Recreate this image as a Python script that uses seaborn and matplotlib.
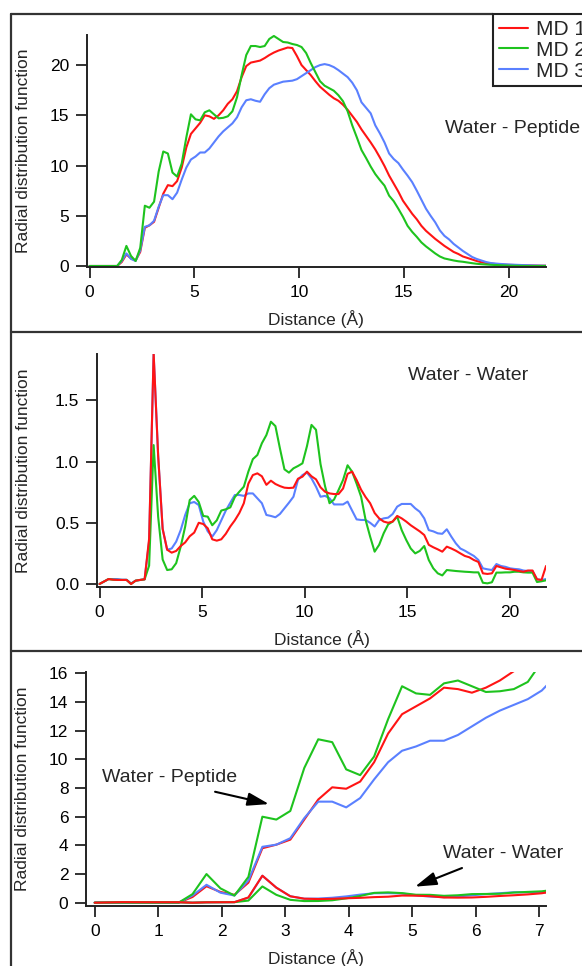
import numpy as np
import pandas as pd
import matplotlib
matplotlib.use('Agg')
import matplotlib.pyplot as plt
from matplotlib.lines import Line2D
from matplotlib.ticker import FormatStrFormatter
import seaborn as sns

sns.set_style('ticks')
plt.rcParams['font.family'] = ['Liberation Sans', 'DejaVu Sans']

# distance grid of the histogram bins (A)
distance = [0.00, 0.22, 0.44, 0.66, 0.88, 1.10, 1.32, 1.54, 1.76, 1.98,
            2.20, 2.42, 2.64, 2.86, 3.08, 3.30, 3.52, 3.74, 3.96, 4.18,
            4.40, 4.62, 4.84, 5.06, 5.28, 5.50, 5.72, 5.94, 6.16, 6.38,
            6.60, 6.82, 7.04, 7.26, 7.48, 7.70, 7.92, 8.14, 8.36, 8.58,
            8.80, 9.02, 9.24, 9.46, 9.68, 9.90, 10.12, 10.34, 10.56, 10.78,
            11.00, 11.22, 11.44, 11.66, 11.88, 12.10, 12.32, 12.54, 12.76, 12.98,
            13.20, 13.42, 13.64, 13.86, 14.08, 14.30, 14.52, 14.74, 14.96, 15.18,
            15.40, 15.62, 15.84, 16.06, 16.28, 16.50, 16.72, 16.94, 17.16, 17.38,
            17.60, 17.82, 18.04, 18.26, 18.48, 18.70, 18.92, 19.14, 19.36, 19.58,
            19.80, 20.02, 20.24, 20.46, 20.68, 20.90, 21.12, 21.34, 21.56, 21.78]

# water - peptide rdf
wp_md1 = [0, 0, 0, 0, 0, 0, 0, 0.4, 1.15, 0.75,
          0.55, 1.4, 3.8, 4.05, 4.4, 5.8, 7.2, 8.05, 7.95, 8.45,
          9.8, 11.8, 13.15, 13.7, 14.25, 15.0, 14.9, 14.65, 15.0, 15.5,
          16.15, 16.6, 17.4, 18.8, 19.9, 20.25, 20.35, 20.45, 20.7, 21.0,
          21.25, 21.45, 21.6, 21.75, 21.7, 20.9, 20.0, 19.5, 19.0, 18.4,
          17.85, 17.45, 17.05, 16.7, 16.45, 16.05, 15.55, 14.95, 14.35, 13.6,
          12.95, 12.3, 11.6, 10.8, 9.95, 9.0, 8.2, 7.4, 6.5, 5.85,
          5.2, 4.65, 4.0, 3.5, 3.1, 2.7, 2.35, 2.0, 1.7, 1.4,
          1.2, 0.95, 0.8, 0.65, 0.5, 0.38, 0.3, 0.24, 0.2, 0.16,
          0.13, 0.11, 0.1, 0.08, 0.07, 0.06, 0.05, 0.04, 0.03, 0.03]
wp_md2 = [0, 0, 0, 0, 0, 0, 0, 0.6, 2.0, 1.0,
          0.5, 1.8, 6.0, 5.8, 6.4, 9.4, 11.4, 11.2, 9.3, 8.9,
          10.2, 12.8, 15.1, 14.6, 14.5, 15.3, 15.5, 15.1, 14.7, 14.75,
          14.9, 15.4, 16.8, 19.0, 21.0, 21.9, 21.9, 21.8, 21.9, 22.6,
          22.9, 22.6, 22.3, 22.25, 22.1, 22.0, 21.8, 21.2, 20.2, 19.3,
          18.4, 17.95, 17.7, 17.45, 17.0, 16.4, 15.4, 14.0, 12.8, 11.55,
          10.75, 9.9, 9.15, 8.55, 8.0, 7.0, 6.45, 5.7, 4.9, 4.0,
          3.4, 2.9, 2.35, 1.95, 1.6, 1.25, 0.95, 0.75, 0.65, 0.55,
          0.47, 0.42, 0.35, 0.28, 0.22, 0.18, 0.15, 0.12, 0.1, 0.08,
          0.06, 0.04, 0.03, 0.02, 0.01, 0, 0, 0, 0, 0]
wp_md3 = [0, 0, 0, 0, 0, 0, 0, 0.5, 1.25, 0.7,
          0.5, 1.55, 3.9, 4.05, 4.5, 5.9, 7.05, 7.05, 6.65, 7.3,
          8.6, 9.8, 10.6, 10.9, 11.3, 11.3, 11.7, 12.3, 12.9, 13.4,
          13.8, 14.2, 14.8, 15.8, 16.5, 16.6, 16.45, 16.35, 17.1, 17.7,
          18.05, 18.2, 18.35, 18.4, 18.45, 18.6, 18.9, 19.2, 19.5, 19.8,
          20.0, 20.1, 20.0, 19.8, 19.5, 19.15, 18.8, 18.25, 17.5, 16.3,
          15.75, 15.2, 14.0, 13.2, 12.3, 11.2, 10.65, 10.25, 9.6, 9.0,
          8.35, 7.5, 6.6, 5.7, 5.0, 4.35, 3.55, 3.0, 2.65, 2.2,
          1.85, 1.5, 1.2, 0.9, 0.7, 0.55, 0.4, 0.3, 0.25, 0.21,
          0.18, 0.15, 0.13, 0.11, 0.09, 0.08, 0.06, 0.05, 0.04, 0.03]

# water - water rdf
ww_md1 = [0.0, 0.02, 0.04, 0.035, 0.033, 0.033, 0.033, 0.0, 0.027, 0.033,
          0.038, 0.37, 1.885, 1.05, 0.45, 0.28, 0.256, 0.27, 0.31, 0.34,
          0.39, 0.42, 0.5, 0.49, 0.455, 0.365, 0.354, 0.365, 0.41, 0.47,
          0.52, 0.58, 0.66, 0.82, 0.89, 0.904, 0.88, 0.81, 0.844, 0.817,
          0.80, 0.787, 0.784, 0.787, 0.86, 0.877, 0.918, 0.88, 0.855, 0.79,
          0.754, 0.74, 0.735, 0.735, 0.78, 0.9, 0.918, 0.85, 0.77, 0.71,
          0.66, 0.58, 0.536, 0.51, 0.5, 0.51, 0.556, 0.536, 0.51, 0.48,
          0.455, 0.43, 0.40, 0.32, 0.30, 0.283, 0.264, 0.305, 0.29, 0.272,
          0.25, 0.229, 0.218, 0.196, 0.18, 0.087, 0.082, 0.087, 0.147, 0.136,
          0.125, 0.12, 0.114, 0.106, 0.10, 0.11, 0.11, 0.038, 0.033, 0.147]
ww_md2 = [0.0, 0.02, 0.04, 0.035, 0.033, 0.033, 0.033, 0.0, 0.027, 0.033,
          0.038, 0.15, 1.135, 0.55, 0.2, 0.114, 0.12, 0.17, 0.305, 0.47,
          0.686, 0.72, 0.67, 0.556, 0.55, 0.48, 0.52, 0.6, 0.61, 0.626,
          0.71, 0.754, 0.795, 0.918, 1.02, 1.054, 1.15, 1.217, 1.326, 1.29,
          1.108, 0.937, 0.91, 0.945, 0.964, 0.986, 1.127, 1.3, 1.26, 0.98,
          0.8, 0.66, 0.69, 0.768, 0.85, 0.97, 0.918, 0.82, 0.713, 0.523,
          0.387, 0.264, 0.32, 0.414, 0.487, 0.51, 0.55, 0.44, 0.36, 0.29,
          0.25, 0.27, 0.31, 0.196, 0.128, 0.087, 0.07, 0.114, 0.11, 0.106,
          0.103, 0.10, 0.098, 0.095, 0.095, 0.01, 0.005, 0.014, 0.093, 0.093,
          0.095, 0.095, 0.10, 0.10, 0.095, 0.093, 0.093, 0.016, 0.022, 0.03]
ww_md3 = [0.0, 0.02, 0.04, 0.04, 0.04, 0.035, 0.035, 0.005, 0.027, 0.033,
          0.038, 0.35, 1.88, 1.05, 0.45, 0.28, 0.29, 0.346, 0.44, 0.564,
          0.66, 0.67, 0.645, 0.51, 0.43, 0.387, 0.44, 0.52, 0.6, 0.664,
          0.727, 0.727, 0.72, 0.74, 0.74, 0.7, 0.66, 0.564, 0.556, 0.545,
          0.572, 0.618, 0.664, 0.713, 0.85, 0.89, 0.91, 0.863, 0.795, 0.713,
          0.72, 0.70, 0.65, 0.65, 0.65, 0.673, 0.6, 0.528, 0.523, 0.523,
          0.50, 0.47, 0.523, 0.536, 0.542, 0.572, 0.632, 0.654, 0.654, 0.654,
          0.618, 0.59, 0.536, 0.44, 0.43, 0.414, 0.41, 0.447, 0.387, 0.332,
          0.29, 0.272, 0.25, 0.229, 0.196, 0.128, 0.12, 0.114, 0.163, 0.147,
          0.14, 0.128, 0.123, 0.12, 0.11, 0.106, 0.106, 0.038, 0.033, 0.04]

runs = ['MD 1', 'MD 2', 'MD 3']
colors = {'MD 1': '#ff1414', 'MD 2': '#1ec31e', 'MD 3': '#5a80ff'}

rows = []
for pair, vals in [('wp', [wp_md1, wp_md2, wp_md3]), ('ww', [ww_md1, ww_md2, ww_md3])]:
    for run, v in zip(runs, vals):
        rows.append(pd.DataFrame({'r': distance, 'g': v, 'run': run, 'pair': pair}))
df = pd.concat(rows, ignore_index=True)

W, H = 582, 966
fig = plt.figure(figsize=(W / 100, H / 100), dpi=100)
ax1 = fig.add_axes([0.1495, 0.7236, 0.7880, 0.2402])
ax2 = fig.add_axes([0.1672, 0.3923, 0.7703, 0.2412])
ax3 = fig.add_axes([0.1486, 0.0621, 0.7888, 0.2422])


def draw(ax, pair, order):
    for run in order:
        sub = df[(df['pair'] == pair) & (df['run'] == run)]
        sns.lineplot(data=sub, x='r', y='g', color=colors[run], lw=1.5, ax=ax, label=run, legend=False)


draw(ax1, 'wp', ['MD 1', 'MD 3', 'MD 2'])
draw(ax2, 'ww', ['MD 3', 'MD 2', 'MD 1'])
draw(ax3, 'wp', ['MD 1', 'MD 3', 'MD 2'])
draw(ax3, 'ww', ['MD 3', 'MD 2', 'MD 1'])

ax1.set_xlim(-0.12, 21.77)
ax1.set_ylim(-0.1, 23.0)
ax1.set_xticks([0, 5, 10, 15, 20])
ax1.set_yticks([0, 5, 10, 15, 20])

ax2.set_xlim(-0.107, 21.76)
ax2.set_ylim(-0.025, 1.879)
ax2.set_xticks([0, 5, 10, 15, 20])
ax2.set_yticks([0.0, 0.5, 1.0, 1.5])
ax2.yaxis.set_major_formatter(FormatStrFormatter('%.1f'))

ax3.set_xlim(-0.13, 7.1)
ax3.set_ylim(-0.23, 16.09)
ax3.set_xticks(range(0, 8))
ax3.set_yticks(range(0, 17, 2))

for ax, lx in [(ax1, -0.123), (ax2, -0.149), (ax3, -0.122)]:
    sns.despine(ax=ax)
    for s in ['left', 'bottom']:
        ax.spines[s].set_linewidth(1.4)
        ax.spines[s].set_color('#222222')
    ax.tick_params(direction='out', length=8, width=1.3, color='#222222', labelsize=12.5,
                   pad=5, labelcolor='black')
    ax.set_xlabel('Distance (Å)', fontsize=12.5, labelpad=7)
    ax.set_ylabel('Radial distribution function', fontsize=12.5)
    ax.yaxis.set_label_coords(lx, 0.5)

ax1.text(16.97, 13.23, 'Water - Peptide', fontsize=14, ha='left', va='baseline')
ax2.text(15.05, 1.667, 'Water - Water', fontsize=14, ha='left', va='baseline')
ax3.text(0.115, 8.45, 'Water - Peptide', fontsize=14, ha='left', va='baseline')
ax3.text(5.477, 3.12, 'Water - Water', fontsize=14, ha='left', va='baseline')

arrow = dict(arrowstyle='-|>,head_length=1.3,head_width=0.4', mutation_scale=10,
             color='black', lw=1.5, shrinkA=0, shrinkB=0)
ax3.annotate('', xy=(2.745, 6.88), xytext=(1.895, 7.74), arrowprops=arrow)
ax3.annotate('', xy=(5.044, 1.12), xytext=(5.784, 2.42), arrowprops=arrow)

# legend (box runs off the right edge like the original)
handles = [Line2D([0], [0], color=colors[r], lw=1.5) for r in runs]
leg = fig.legend(handles, runs, loc='upper left', bbox_to_anchor=(493 / W, 1 - 14 / H),
                 bbox_transform=fig.transFigure, fontsize=15, frameon=True, fancybox=False,
                 framealpha=1, edgecolor='#222222', handlelength=1.4, handletextpad=0.38,
                 borderpad=0.28, labelspacing=0.09, borderaxespad=0)
leg.get_frame().set_linewidth(1.5)

# panel frame lines
lc = '#333333'
fig.add_artist(Line2D([11 / W, 11 / W], [0, 1 - 14 / H], transform=fig.transFigure, color=lc, lw=1.6))
fig.add_artist(Line2D([11 / W, 493 / W], [1 - 14 / H, 1 - 14 / H], transform=fig.transFigure, color=lc, lw=1.6))
fig.add_artist(Line2D([11 / W, 1], [1 - 332 / H, 1 - 332 / H], transform=fig.transFigure, color=lc, lw=1.6))
fig.add_artist(Line2D([11 / W, 1], [1 - 651 / H, 1 - 651 / H], transform=fig.transFigure, color=lc, lw=1.6))

fig.savefig('out.png', dpi=100)
